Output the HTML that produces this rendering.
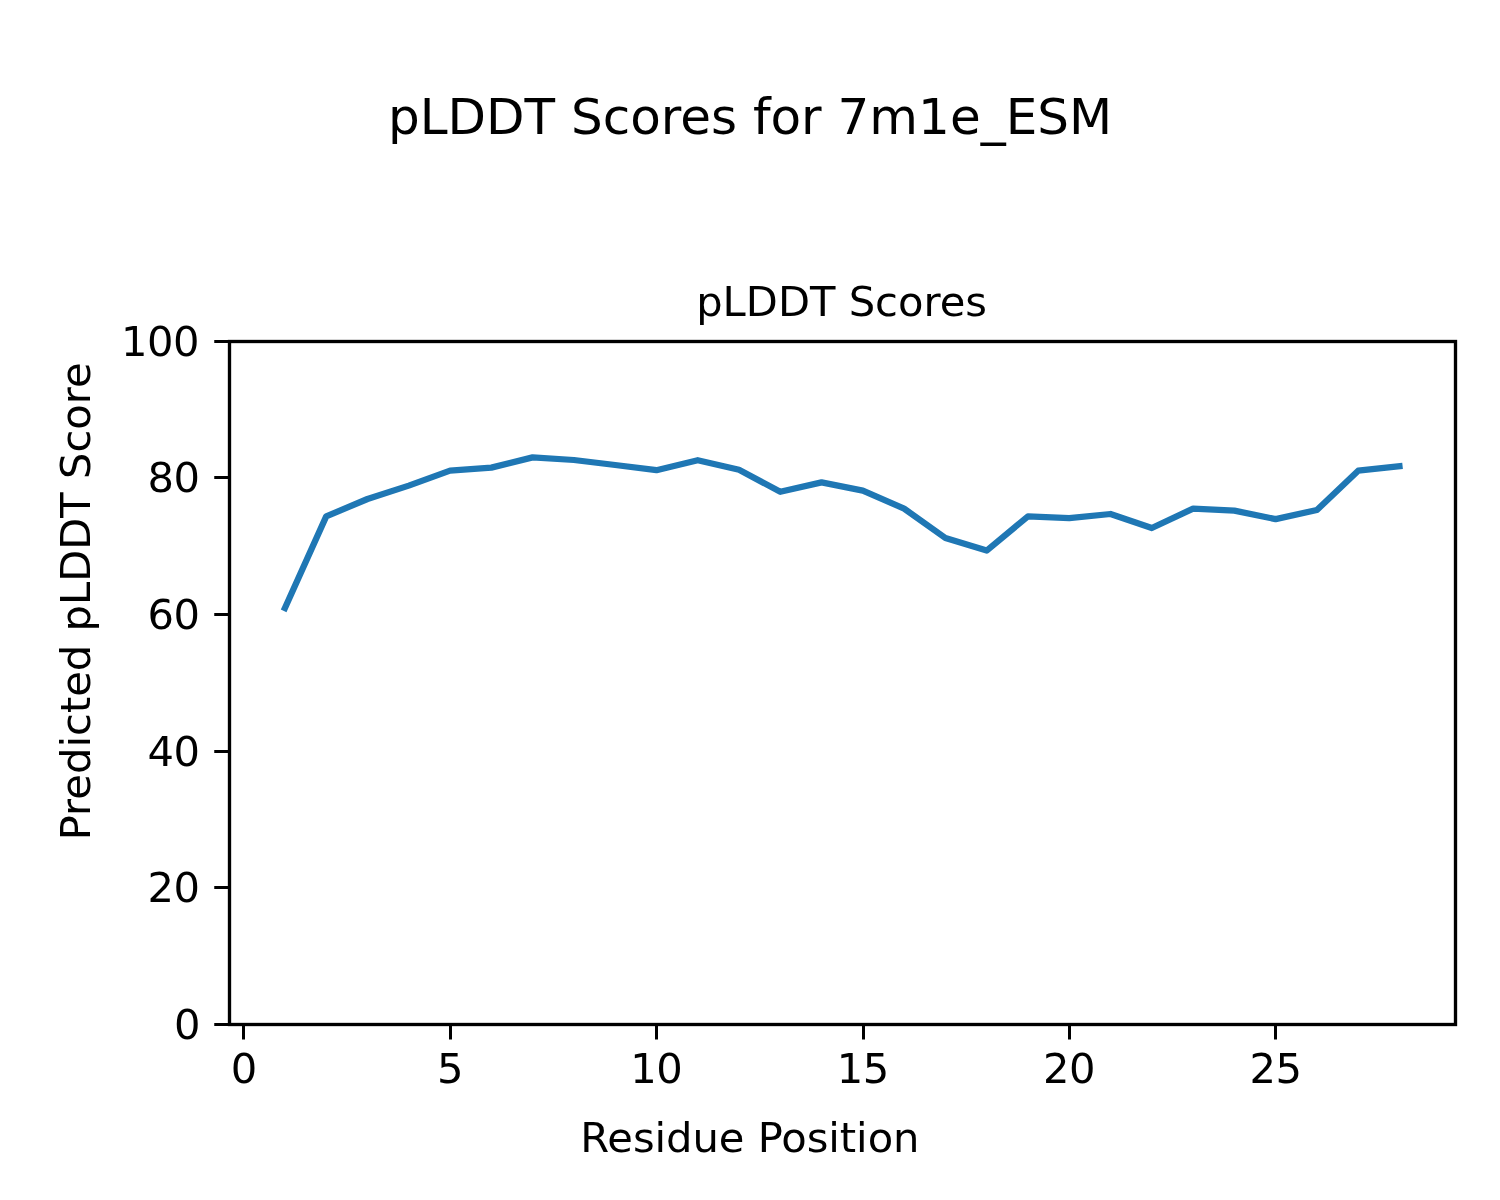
<!DOCTYPE html>
<html lang="en">
<head>
<meta charset="utf-8">
<title>pLDDT Scores for 7m1e_ESM</title>
<style>
html,body{margin:0;padding:0;background:#fff;}
body{width:1500px;height:1200px;overflow:hidden;}
svg{display:block;}
text{font-family:"DejaVu Sans","Liberation Sans",sans-serif;fill:#000;}
.t10{font-size:41.67px;}
.t12{font-size:50px;}
.tk{letter-spacing:-0.5px;}
</style>
</head>
<body>
<svg width="1500" height="1200" viewBox="0 0 1500 1200">
<rect x="0" y="0" width="1500" height="1200" fill="#ffffff"/>
<polyline points="284.93,608.00 326.21,516.40 367.49,499.00 408.77,485.60 450.05,470.60 491.33,467.60 532.61,457.40 573.89,460.00 615.17,465.00 656.44,470.20 697.72,460.20 739.00,469.80 780.28,491.80 821.56,482.40 862.84,490.60 904.12,508.60 945.40,538.00 986.68,550.60 1027.96,516.40 1069.24,518.20 1110.52,514.00 1151.80,528.00 1193.08,508.60 1234.36,510.60 1275.64,519.10 1316.92,510.00 1358.20,470.70 1399.47,466.26" fill="none" stroke="#1f77b4" stroke-width="6.25" stroke-linejoin="round" stroke-linecap="square"/>
<rect x="229.5" y="341.5" width="1226.00" height="683.00" fill="none" stroke="#000" stroke-width="3.33" stroke-linejoin="miter"/>
<line x1="243.5" x2="243.5" y1="1024.5" y2="1039.50" stroke="#000" stroke-width="3"/>
<text x="230.70" y="1082.6" class="t10 tk">0</text>
<line x1="450.5" x2="450.5" y1="1024.5" y2="1039.50" stroke="#000" stroke-width="3"/>
<text x="437.10" y="1082.6" class="t10 tk">5</text>
<line x1="656.5" x2="656.5" y1="1024.5" y2="1039.50" stroke="#000" stroke-width="3"/>
<text x="630.24" y="1082.6" class="t10 tk">10</text>
<line x1="863.5" x2="863.5" y1="1024.5" y2="1039.50" stroke="#000" stroke-width="3"/>
<text x="836.64" y="1082.6" class="t10 tk">15</text>
<line x1="1069.5" x2="1069.5" y1="1024.5" y2="1039.50" stroke="#000" stroke-width="3"/>
<text x="1043.04" y="1082.6" class="t10 tk">20</text>
<line x1="1275.5" x2="1275.5" y1="1024.5" y2="1039.50" stroke="#000" stroke-width="3"/>
<text x="1249.43" y="1082.6" class="t10 tk">25</text>
<line x1="214.25" x2="229.5" y1="1024.5" y2="1024.5" stroke="#000" stroke-width="3"/>
<text x="173.90" y="1039" class="t10 tk">0</text>
<line x1="214.25" x2="229.5" y1="887.5" y2="887.5" stroke="#000" stroke-width="3"/>
<text x="147.40" y="902" class="t10 tk">20</text>
<line x1="214.25" x2="229.5" y1="751.5" y2="751.5" stroke="#000" stroke-width="3"/>
<text x="147.40" y="766" class="t10 tk">40</text>
<line x1="214.25" x2="229.5" y1="614.5" y2="614.5" stroke="#000" stroke-width="3"/>
<text x="147.40" y="629" class="t10 tk">60</text>
<line x1="214.25" x2="229.5" y1="477.5" y2="477.5" stroke="#000" stroke-width="3"/>
<text x="147.40" y="492" class="t10 tk">80</text>
<line x1="214.25" x2="229.5" y1="341.5" y2="341.5" stroke="#000" stroke-width="3"/>
<text x="120.90" y="356" class="t10 tk">100</text>
<text x="750" y="133.5" text-anchor="middle" class="t12">pLDDT Scores for 7m1e_ESM</text>
<text x="841.60" y="315.9" text-anchor="middle" class="t10">pLDDT Scores</text>
<text x="749.9" y="1151.6" text-anchor="middle" class="t10" style="letter-spacing:-0.05px">Residue Position</text>
<text transform="translate(90,601.3) rotate(-90)" text-anchor="middle" class="t10">Predicted pLDDT Score</text>
</svg>
</body>
</html>
